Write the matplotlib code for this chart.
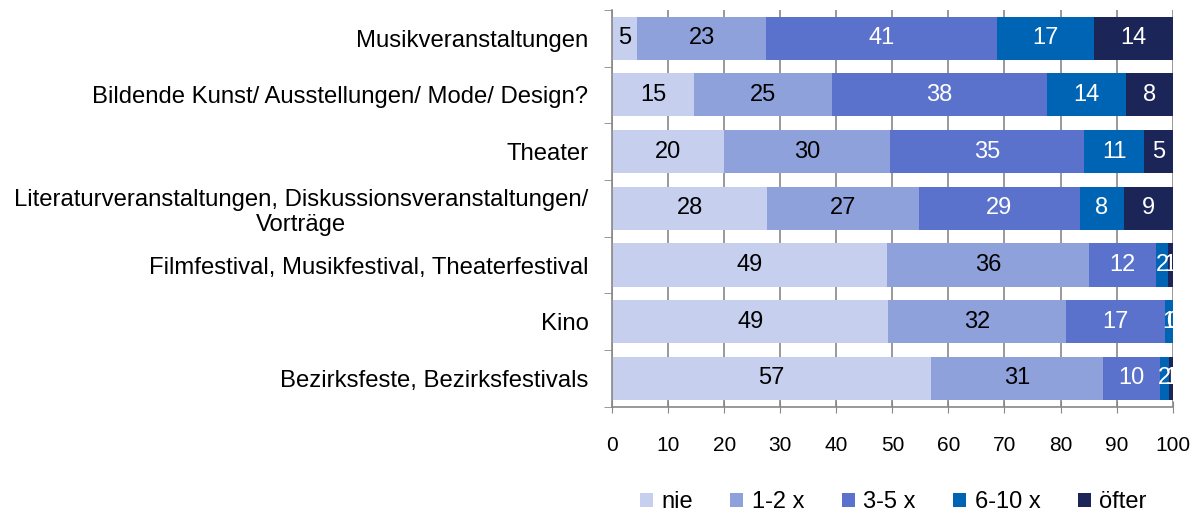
import numpy as np
import matplotlib as mpl
import matplotlib.pyplot as plt

mpl.rcParams['font.family'] = ['Liberation Sans', 'DejaVu Sans']

categories = ['Musikveranstaltungen',
              'Bildende Kunst/ Ausstellungen/ Mode/ Design?',
              'Theater',
              'Literaturveranstaltungen, Diskussionsveranstaltungen/\nVorträge',
              'Filmfestival, Musikfestival, Theaterfestival',
              'Kino',
              'Bezirksfeste, Bezirksfestivals']

series = ['nie', '1-2 x', '3-5 x', '6-10 x', 'öfter']

nie     = [4.5, 14.6, 19.9, 27.7, 49.1, 49.3, 56.9]
x1_2    = [23.0, 24.6, 29.7, 27.1, 35.9, 31.7, 30.7]
x3_5    = [41.2, 38.3, 34.6, 28.6, 12.1, 17.6, 10.2]
x6_10   = [17.3, 14.1, 10.7, 8.0, 2.0, 1.4, 1.6]
oefter  = [14.0, 8.4, 5.1, 8.6, 0.9, 0.0, 0.6]

labels_shown = [
    ['5', '15', '20', '28', '49', '49', '57'],
    ['23', '25', '30', '27', '36', '32', '31'],
    ['41', '38', '35', '29', '12', '17', '10'],
    ['17', '14', '11', '8', '2', '1', '2'],
    ['14', '8', '5', '9', '1', '0', '1'],
]

colors = ['#C6CFEE', '#8FA1DB', '#5A72CC', '#0064B4', '#1C2558']
text_colors = ['black', 'black', 'white', 'white', 'white']

data = [nie, x1_2, x3_5, x6_10, oefter]

fig = plt.figure(figsize=(11.99, 5.15), dpi=100, facecolor='w')
ax = fig.add_axes([0.5105, 0.21, 0.4675, 0.771])

y = np.arange(len(categories))
left = np.zeros(len(categories))
for vals, name, col, tcol, labs in zip(data, series, colors, text_colors, labels_shown):
    vals = np.array(vals)
    ax.barh(y, vals, left=left, height=0.76, color=col, label=name, zorder=2)
    for yi, (l, v, t) in enumerate(zip(left, vals, labs)):
        ax.text(l + v / 2, yi, t, ha='center', va='center', color=tcol,
                fontsize=17, zorder=3, clip_on=True)
    left += vals

ax.set_xlim(0, 100)
ax.set_ylim(len(categories) - 0.5, -0.5)
ax.set_xticks(np.arange(0, 101, 10))
ax.tick_params(axis='x', labelsize=15, direction='inout', length=8,
               color='#888888', pad=17)
ax.set_yticks(y)
ax.set_yticklabels(categories, fontsize=17.2)
ax.tick_params(axis='y', length=0, pad=17)
ax.set_yticks(np.arange(-0.5, len(categories)), minor=True)
ax.tick_params(axis='y', which='minor', length=6, color='#888888', direction='out')
for lab in ax.get_yticklabels():
    lab.set_multialignment('center')

ax.grid(True, axis='x', color='#888888', lw=1.2, zorder=0)
ax.set_axisbelow(True)
for s in ['top', 'right']:
    ax.spines[s].set_visible(False)
for s in ['left', 'bottom']:
    ax.spines[s].set_color('#888888')
    ax.spines[s].set_linewidth(1.2)

fig.legend(loc='lower center', bbox_to_anchor=(0.745, -0.038), ncol=5,
           frameon=False, fontsize=17, handlelength=0.55, handleheight=0.55,
           handletextpad=0.35, columnspacing=1.6)

plt.savefig('out.png', dpi=100)
